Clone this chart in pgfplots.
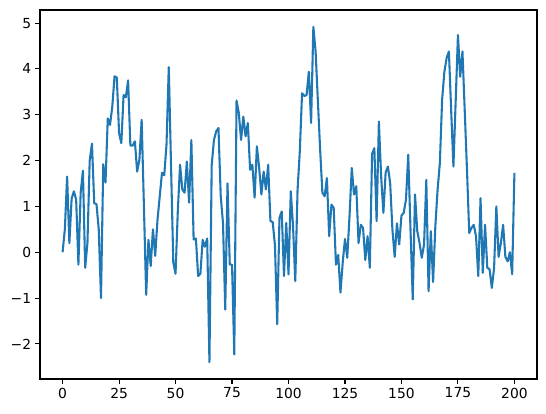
\documentclass[border=0pt]{standalone}
\usepackage{pgfplots}
\pgfplotsset{compat=1.18}
\usepackage{fontspec}
\setmainfont{DejaVu Sans}
\definecolor{mplblue}{HTML}{1F77B4}
\begin{document}
\begin{tikzpicture}[x=1bp,y=1bp]
\useasboundingbox (0,0) rectangle (546,413);
\begin{axis}[
  at={(40bp,34bp)}, anchor=south west,
  width=497bp, height=369bp, scale only axis,
  xmin=-10, xmax=210, ymin=-2.766, ymax=5.286,
  xtick={0,25,50,75,100,125,150,175,200},
  ytick={-2,-1,0,1,2,3,4,5},
  yticklabels={−2,−1,0,1,2,3,4,5},
  xtick pos=lower, ytick pos=left,
  tick align=outside,
  major tick length=4.86bp,
  every tick/.style={black, line width=1.1bp},
  axis line style={line width=1.1bp},
  /pgf/number format/assume math mode=true,
  tick label style={font=\fontsize{13.9}{16}\selectfont},
  xticklabel style={yshift=-0.5bp},
  yticklabel style={xshift=-0.5bp},
]
\addplot[mplblue, line width=2.08bp, line join=round, no marks] coordinates {
(0,0.0) (1,0.5) (2,1.65) (3,0.2) (4,1.17) (5,1.33) (6,1.15) (7,-0.27) (8,1.3) (9,1.78)
(10,-0.34) (11,0.2) (12,2.0) (13,2.37) (14,1.07) (15,1.05) (16,0.5) (17,-1.0) (18,1.92) (19,1.52)
(20,2.92) (21,2.78) (22,3.18) (23,3.84) (24,3.81) (25,2.6) (26,2.38) (27,3.43) (28,3.38) (29,3.75)
(30,2.33) (31,2.33) (32,2.42) (33,1.76) (34,2.02) (35,2.89) (36,1.0) (37,-0.93) (38,0.27) (39,-0.3)
(40,0.5) (41,-0.08) (42,0.7) (43,1.22) (44,1.73) (45,1.68) (46,2.35) (47,4.04) (48,1.9) (49,-0.22)
(50,-0.47) (51,0.9) (52,1.91) (53,1.37) (54,1.3) (55,1.98) (56,1.08) (57,2.45) (58,0.28) (59,0.3)
(60,-0.52) (61,-0.47) (62,0.27) (63,0.12) (64,0.3) (65,-2.4) (66,1.9) (67,2.45) (68,2.64) (69,2.71)
(70,1.22) (71,0.64) (72,-1.25) (73,1.5) (74,-0.27) (75,-0.27) (76,-2.23) (77,3.31) (78,3.04) (79,2.45)
(80,2.96) (81,2.53) (82,2.82) (83,1.8) (84,1.91) (85,1.19) (86,2.31) (87,1.85) (88,1.26) (89,1.76)
(90,1.37) (91,1.91) (92,0.68) (93,0.66) (94,0.15) (95,-1.57) (96,0.75) (97,0.89) (98,-0.52) (99,0.64)
(100,-0.48) (101,1.33) (102,0.57) (103,-0.63) (104,1.35) (105,2.2) (106,3.47) (107,3.41) (108,3.43) (109,3.94)
(110,2.82) (111,4.92) (112,4.38) (113,3.3) (114,2.24) (115,1.3) (116,1.22) (117,1.62) (118,0.35) (119,1.04)
(120,0.97) (121,-0.27) (122,-0.06) (123,-0.88) (124,-0.22) (125,0.29) (126,-0.12) (127,0.78) (128,1.84) (129,1.26)
(130,1.44) (131,0.2) (132,0.6) (133,0.53) (134,-0.17) (135,0.35) (136,-0.34) (137,2.15) (138,2.27) (139,0.68)
(140,2.85) (141,1.66) (142,0.86) (143,1.74) (144,1.87) (145,1.51) (146,0.49) (147,-0.1) (148,0.63) (149,0.17)
(150,0.8) (151,0.86) (152,1.15) (153,2.13) (154,0.5) (155,-1.03) (156,1.26) (157,0.46) (158,0.2) (159,-0.12)
(160,0.17) (161,1.58) (162,-0.85) (163,0.46) (164,-0.65) (165,0.57) (166,1.37) (167,1.95) (168,3.33) (169,3.94)
(170,4.24) (171,4.38) (172,3.1) (173,1.87) (174,3.3) (175,4.74) (176,3.83) (177,4.38) (178,3.1) (179,1.8)
(180,0.42) (181,0.53) (182,0.6) (183,0.35) (184,-0.52) (185,1.18) (186,-0.45) (187,0.6) (188,-0.34) (189,-0.37)
(190,-0.78) (191,-0.34) (192,1.0) (193,-0.1) (194,0.2) (195,0.6) (196,-0.1) (197,-0.2) (198,0.0) (199,-0.48)
(200,1.73)
};
\end{axis}
\end{tikzpicture}
\end{document}
